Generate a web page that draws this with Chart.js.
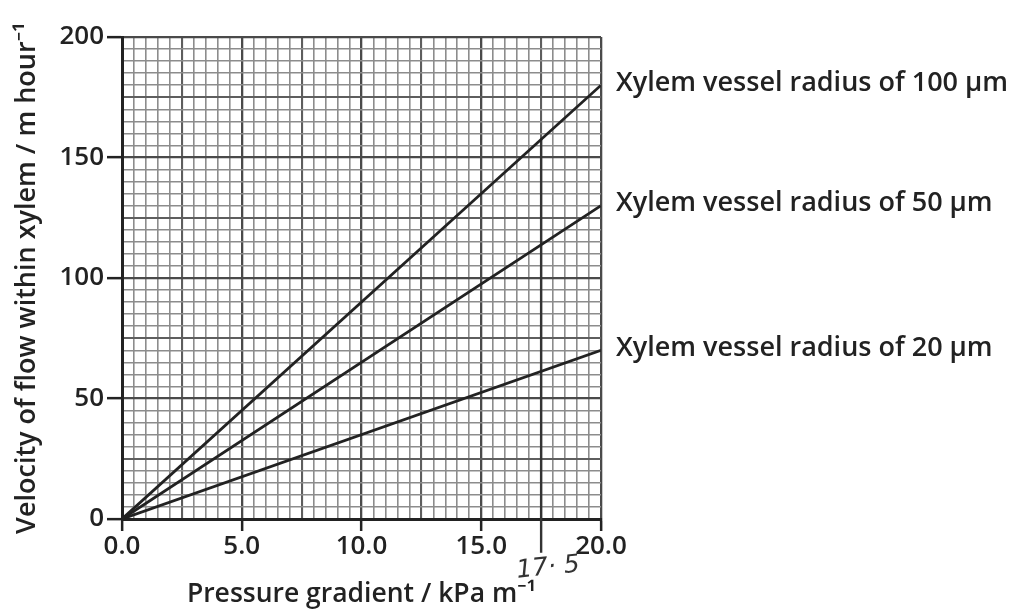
<!DOCTYPE html>
<html>
<head>
<meta charset="utf-8">
<script src="https://cdn.jsdelivr.net/npm/chart.js@4/dist/chart.umd.min.js"></script>
<style>
  html, body { margin: 0; padding: 0; background: #fff; }
  #wrap { width: 1025px; height: 614px; }
</style>
</head>
<body>
<div id="wrap"><canvas id="xylemChart"></canvas></div>
<script>
const pressure    = [0, 20];
const radius100   = [0, 180];
const radius50    = [0, 130];
const radius20    = [0, 70];
const seriesNames = ['Xylem vessel radius of 100 \u00b5m', 'Xylem vessel radius of 50 \u00b5m', 'Xylem vessel radius of 20 \u00b5m'];
const readX       = 17.5;
const readY       = [157.5, -14];
const xTickLabels = [0, 5, 10, 15, 20];
const yTickLabels = [0, 50, 100, 150, 200];

const ink  = '#222';
const font = '"Open Sans", "Noto Sans", sans-serif';

const ctx = document.getElementById('xylemChart');

// sottile = ogni 0.5 / 5, medio = 2.5 / 25, spesso = 5 / 50
function gridStyle(v, step) {
    const r = Math.round(v / step);
    if (r % 10 === 0) return { c: '#4a4a4a', w: 2.3 };
    if (r % 5 === 0)  return { c: '#5e5e5e', w: 2.1 };
    return { c: '#8c8c8c', w: 1.6 };
}

const lineLabels = {
    id: 'lineLabels',
    afterDraw(chart) {
        const c = chart.ctx;
        const xs = chart.scales.x, ys = chart.scales.y;
        c.save();
        c.fillStyle = ink;
        c.font = '600 27px ' + font;
        c.textBaseline = 'middle';
        [0, 1, 2].forEach(i => {
            const d = chart.data.datasets[i].data;
            const p = d[d.length - 1];
            c.fillText(seriesNames[i], xs.getPixelForValue(p.x) + 15, ys.getPixelForValue(p.y) - 2);
        });
        // annotazione a mano
        c.font = 'italic 25px "DejaVu Sans", sans-serif';
        c.fillStyle = '#333';
        c.translate(xs.getPixelForValue(readX) + 7, 568);
        c.rotate(-0.1);
        c.textAlign = 'center';
        c.textBaseline = 'middle';
        c.fillText('17\u00b7 5', 0, 0);
        c.restore();
    }
};

new Chart(ctx, {
    type: 'line',
    data: {
        datasets: [
            { label: seriesNames[0], data: pressure.map((x, i) => ({ x, y: radius100[i] })) },
            { label: seriesNames[1], data: pressure.map((x, i) => ({ x, y: radius50[i] })) },
            { label: seriesNames[2], data: pressure.map((x, i) => ({ x, y: radius20[i] })) },
            { label: 'lettura', data: readY.map(y => ({ x: readX, y })), clip: false, borderWidth: 2.4, borderColor: '#333' },
        ].map(ds => Object.assign({ borderColor: ink, borderWidth: 2.8, pointRadius: 0, fill: false, tension: 0 }, ds))
    },
    options: {
        responsive: true,
        maintainAspectRatio: false,
        animation: false,
        layout: { padding: { left: 11, right: 424, top: 37, bottom: 0 } },
        plugins: {
            legend: { display: false },
            tooltip: { enabled: false }
        },
        scales: {
            x: {
                type: 'linear',
                min: 0, max: 20,
                afterFit: s => { s.height = 95; },
                border: { color: ink, width: 3 },
                grid: {
                    tickLength: 12,
                    color: c => gridStyle(c.tick.value, 0.5).c,
                    lineWidth: c => gridStyle(c.tick.value, 0.5).w,
                    tickColor: c => xTickLabels.includes(c.tick.value) ? ink : 'rgba(0,0,0,0)',
                    tickWidth: 2.5
                },
                ticks: {
                    stepSize: 0.5,
                    autoSkip: false,
                    maxRotation: 0,
                    padding: 0,
                    color: ink,
                    font: { family: font, size: 26, weight: 600 },
                    callback: v => xTickLabels.includes(v) ? v.toFixed(1) : ''
                },
                title: {
                    display: true,
                    text: 'Pressure gradient / kPa m\u207b\u00b9',
                    color: ink,
                    font: { family: font, size: 26.5, weight: 600 },
                    padding: { top: 0, bottom: 4 }
                }
            },
            y: {
                type: 'linear',
                min: 0, max: 200,
                afterFit: s => { s.width = 111; },
                border: { color: ink, width: 3 },
                grid: {
                    tickLength: 15,
                    color: c => gridStyle(c.tick.value, 5).c,
                    lineWidth: c => gridStyle(c.tick.value, 5).w,
                    tickColor: c => yTickLabels.includes(c.tick.value) ? ink : 'rgba(0,0,0,0)',
                    tickWidth: 2.5
                },
                ticks: {
                    stepSize: 5,
                    autoSkip: false,
                    padding: 3,
                    color: ink,
                    font: { family: font, size: 26, weight: 600 },
                    callback: v => yTickLabels.includes(v) ? String(v) : ''
                },
                title: {
                    display: true,
                    text: 'Velocity of flow within xylem / m hour\u207b\u00b9',
                    color: ink,
                    font: { family: font, size: 27, weight: 600 },
                    padding: { top: 0, bottom: 0 }
                }
            }
        }
    },
    plugins: [lineLabels]
});
</script>
</body>
</html>
